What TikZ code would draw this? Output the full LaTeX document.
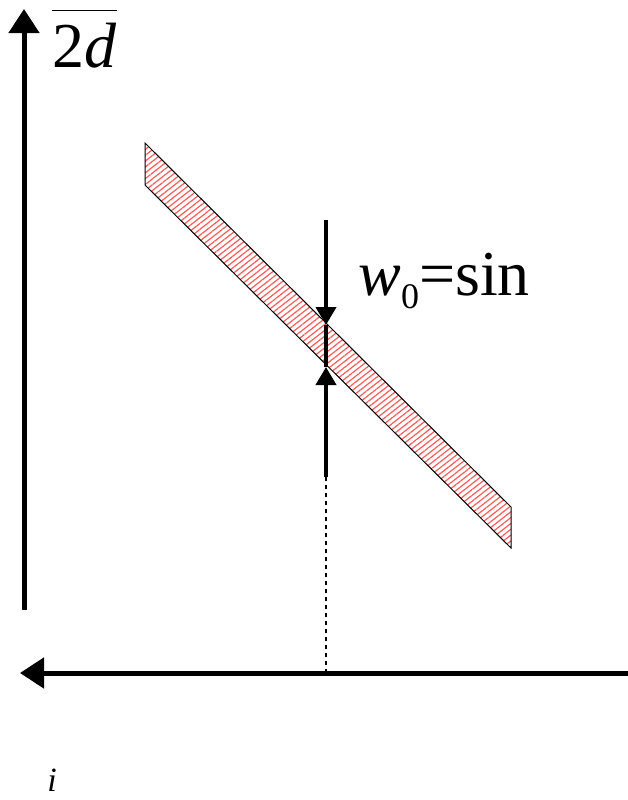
\documentclass[tikz,border=0pt]{standalone}
\usepackage{fontspec}
\setmainfont{Liberation Serif}
\usetikzlibrary{arrows.meta, patterns.meta}

\begin{document}
\begin{tikzpicture}[
  x=0.5pt, y=-0.5pt,
  axis/.style={line width=2.5pt, -{Triangle[length=12pt, width=15pt]}},
  meas/.style={line width=2pt, -{Triangle[length=9pt, width=10pt]}},
  band/.style={draw, line width=0.5pt, pattern={Lines[angle=38, distance=2.3pt, line width=0.6pt]}, pattern color=red!65},
  guide/.style={line width=0.8pt, dash pattern=on 2pt off 2pt},
  lbl/.style={inner sep=0pt, anchor=base west},
]
\useasboundingbox (0,0) rectangle (628,800);

% ---- band
\coordinate (bA) at (145,143);
\coordinate (bB) at (511,507);
\coordinate (bC) at (511,548);
\coordinate (bD) at (145,185);
\path[band] (bA) -- (bB) -- (bC) -- (bD) -- cycle;

% ---- axes
\coordinate (yb) at (24,610);
\coordinate (yt) at (24,9);
\coordinate (xr) at (628,673);
\coordinate (xl) at (20,673);
\draw[axis] (yb) -- (yt);
\draw[axis] (xr) -- (xl);

% ---- width marker
\coordinate (wtop) at (326,220);
\coordinate (wup) at (326,325);
\coordinate (wlo) at (326,367);
\coordinate (wbot) at (326,477);
\coordinate (wfoot) at (326,673);
\draw[meas] (wtop) -- (wup);
\draw[meas] (wbot) -- (wlo);
\draw[line width=2.2pt] (wup) -- (wlo);
\draw[guide] (wbot) -- (wfoot);

% ---- labels
\node[lbl, font=\fontsize{32}{36}\selectfont] (ylab) at (52,67) {$\overline{\hbox{\rule{0pt}{0.84em}2\textit{d}}}$};
\node[lbl, font=\fontsize{32}{36}\selectfont] (wlab) at (358,295) {\textit{w}\raisebox{-6.5pt}{\fontsize{18}{20}\selectfont 0}=sin};
\node[lbl, font=\fontsize{17}{20}\selectfont] (xlab) at (47,791) {\textit{i}};
\end{tikzpicture}
\end{document}
